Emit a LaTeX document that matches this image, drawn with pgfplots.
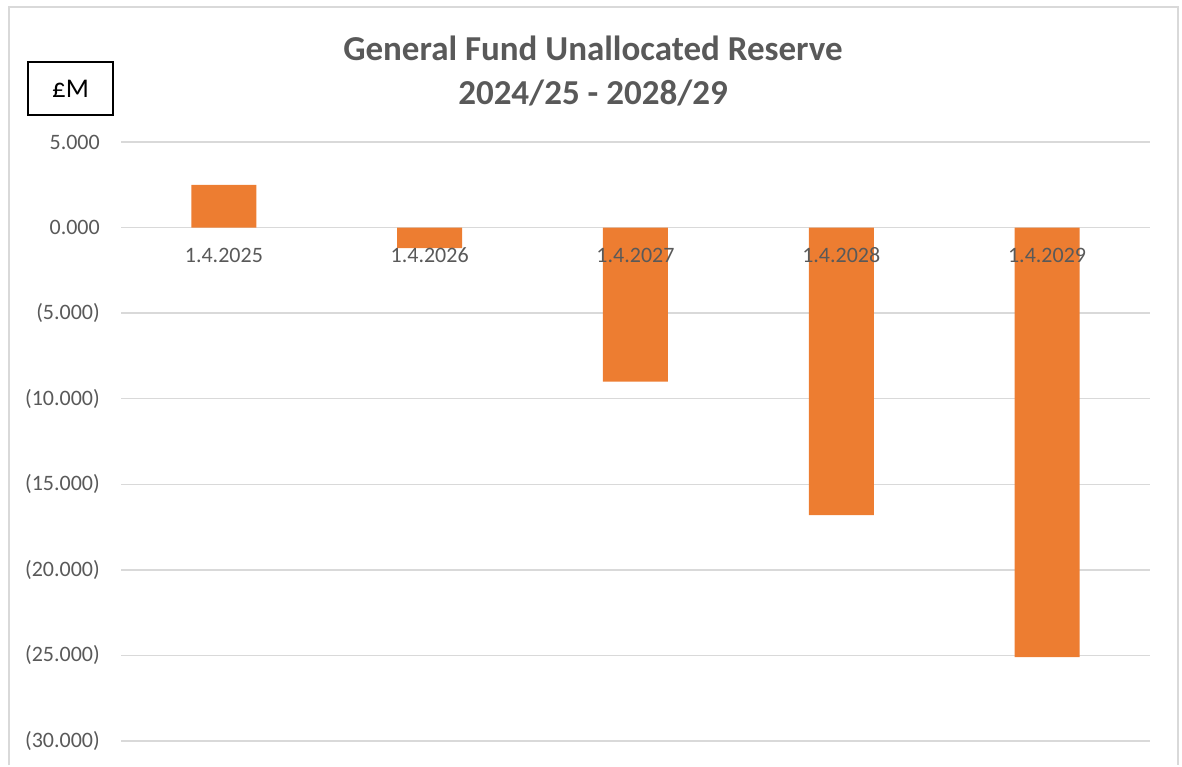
\documentclass[border=0pt]{standalone}
\usepackage{pgfplots}
\pgfplotsset{compat=1.18}
\usepackage{fontspec}
\setmainfont{Carlito}
\definecolor{txtgray}{HTML}{595959}
\definecolor{gridgray}{HTML}{D9D9D9}
\definecolor{barorange}{HTML}{ED7D31}
\begin{document}
\begin{tikzpicture}
\path (0pt,0pt) rectangle (1182pt,-765pt);
\draw[gridgray, line width=2pt] (9pt,-765pt) -- (9pt,-7pt) -- (1178pt,-7pt) -- (1178pt,-765pt);
\node[anchor=base, font=\fontsize{35}{42}\selectfont\bfseries, text=txtgray] at (593pt,-60pt) {General Fund Unallocated Reserve};
\node[anchor=base, font=\fontsize{35}{42}\selectfont\bfseries, text=txtgray] at (593pt,-104pt) {2024/25 - 2028/29};
\draw[black, line width=1.5pt] (28pt,-62pt) rectangle (113pt,-115pt);
\node[font=\fontsize{27}{32}\selectfont, text=black] at (70.5pt,-88.5pt) {£M};
\begin{axis}[
 at={(121pt,-142pt)}, anchor=north west,
 scale only axis, width=1029pt, height=599pt,
 ymin=-30, ymax=5, xmin=-0.5, xmax=4.5,
 axis line style={draw=none},
 major tick length=0pt,
 ytick={-30,-25,-20,-15,-10,-5,0,5},
 yticklabels={(30.000),(25.000),(20.000),(15.000),(10.000),(5.000),0.000,5.000},
 xtick={0,1,2,3,4},
 xticklabels={},
 ymajorgrids, grid style={gridgray, line width=1.5pt},
 tick label style={font=\fontsize{22}{26}\selectfont, text=txtgray},
 yticklabel style={anchor=east, inner sep=0pt, xshift=-21pt},
 ybar, bar width=65pt,
 clip=false,
]
\addplot[fill=barorange, draw=none] coordinates {(0,2.5) (1,-1.2) (2,-9.0) (3,-16.8) (4,-25.1)};
\foreach \i/\lab in {0/1.4.2025,1/1.4.2026,2/1.4.2027,3/1.4.2028,4/1.4.2029}{
  \edef\temp{\noexpand\node[anchor=north, inner sep=0pt, yshift=-20pt, font=\noexpand\fontsize{22}{26}\noexpand\selectfont, text=txtgray] at (axis cs:\i,0) {\lab};}
  \temp
}
\end{axis}
\end{tikzpicture}
\end{document}
